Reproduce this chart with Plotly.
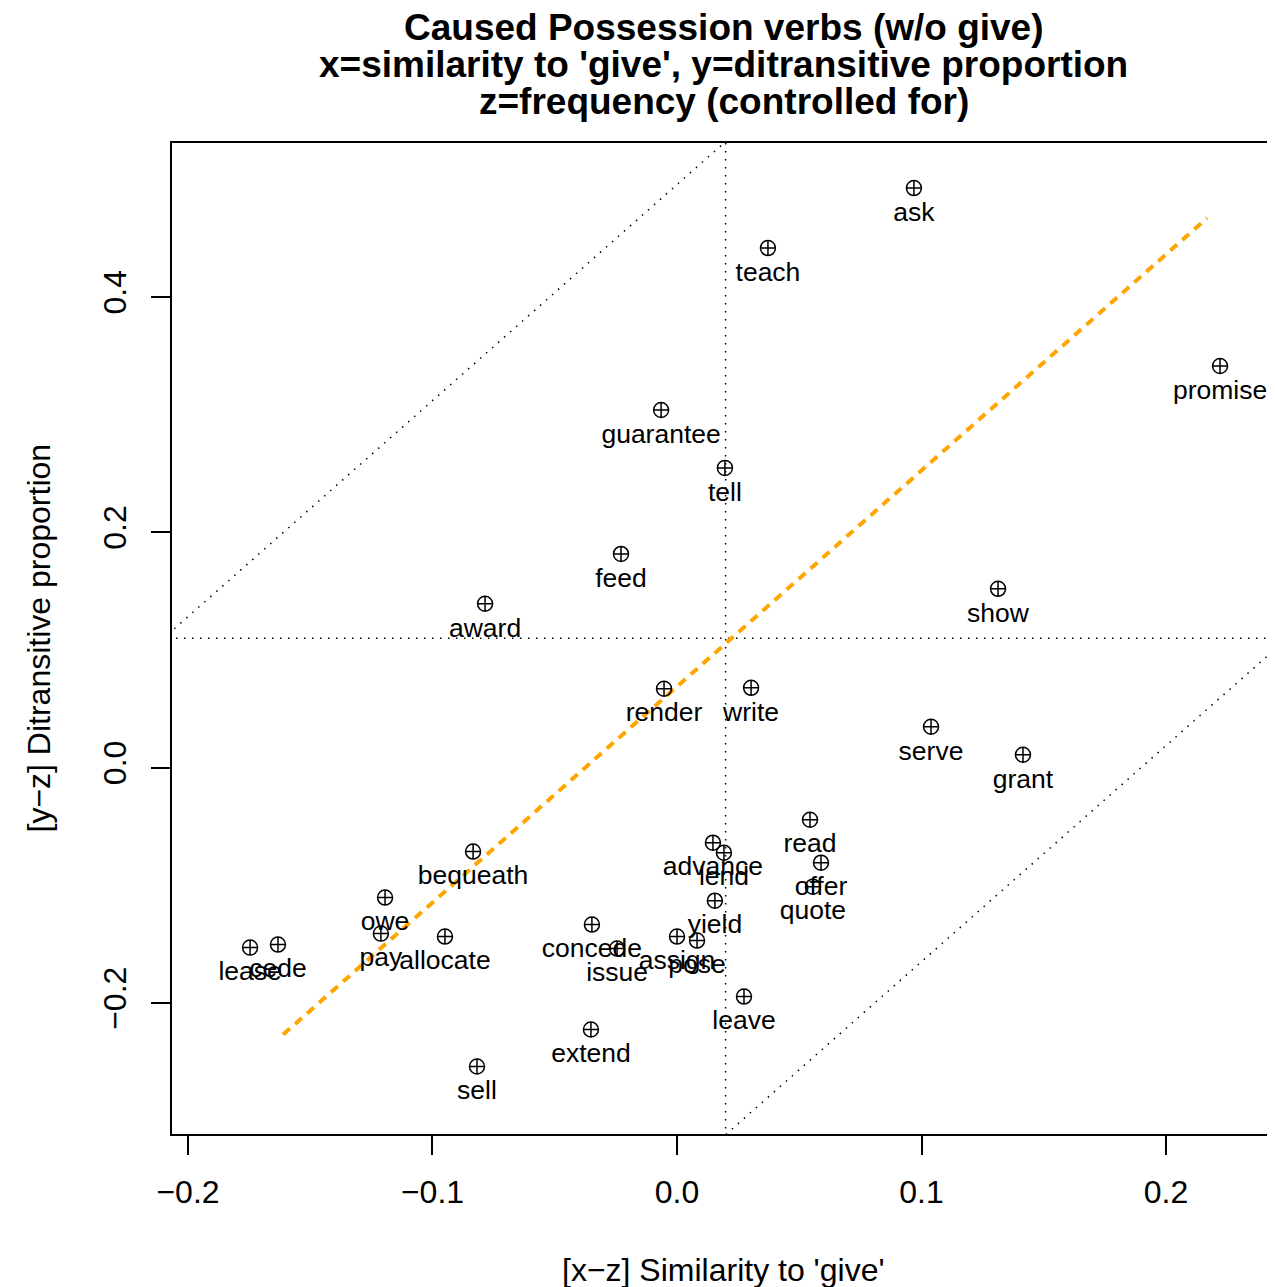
import plotly.graph_objects as go

verbs = ["ask", "teach", "promise", "guarantee", "tell", "feed", "award", "show",
         "render", "write", "serve", "grant", "read", "advance", "lend", "offer",
         "quote", "yield", "concede", "issue", "assign", "pose", "leave", "bequeath",
         "owe", "pay", "allocate", "lease", "cede", "extend", "sell"]
sim_x = [0.0969, 0.0372, 0.2221, -0.0065, 0.0196, -0.0229, -0.0785, 0.1313,
         -0.0053, 0.0303, 0.1039, 0.1415, 0.0544, 0.0147, 0.0192, 0.0589,
         0.0556, 0.0155, -0.0348, -0.0245, 0.0000, 0.0082, 0.0274, -0.0834,
         -0.1194, -0.1211, -0.0949, -0.1746, -0.1632, -0.0352, -0.0818]
ditr_y = [0.4926, 0.4416, 0.3414, 0.3040, 0.2548, 0.1817, 0.1393, 0.1520,
          0.0671, 0.0679, 0.0348, 0.0110, -0.0442, -0.0637, -0.0722, -0.0807,
          -0.1011, -0.1130, -0.1333, -0.1537, -0.1435, -0.1469, -0.1945, -0.0713,
          -0.1104, -0.1410, -0.1435, -0.1529, -0.1503, -0.2225, -0.2539]

center_x = 0.0199
center_y = 0.1101
diag_slope = 1.836
diag_offset = 0.422
fit_x = [-0.1611, 0.2168]
fit_y = [-0.2268, 0.4671]

x_ticks = [-0.2, -0.1, 0.0, 0.1, 0.2]
x_tick_text = ["\u22120.2", "\u22120.1", "0.0", "0.1", "0.2"]
y_ticks = [-0.2, 0.0, 0.2, 0.4]
y_tick_text = ["\u22120.2", "0.0", "0.2", "0.4"]

title_lines = ["Caused Possession verbs (w/o give)",
               "x=similarity to 'give', y=ditransitive proportion",
               "z=frequency (controlled for)"]
x_title = "[x\u2212z] Similarity to 'give'"
y_title = "[y\u2212z] Ditransitive proportion"

FONT = "Liberation Sans, Arial, Helvetica, sans-serif"
x_range = [-0.20654, 0.24458]
y_range = [-0.3113, 0.5309]

fig = go.Figure()
dot_style = dict(color="black", width=1.5, dash="1.5px,6.5px")
ext = [-1.0, 1.0]
fig.add_trace(go.Scatter(x=[center_x, center_x], y=ext, mode="lines", line=dot_style,
                         hoverinfo="skip", showlegend=False))
fig.add_trace(go.Scatter(x=ext, y=[center_y, center_y], mode="lines", line=dot_style,
                         hoverinfo="skip", showlegend=False))
for sgn in (1, -1):
    fig.add_trace(go.Scatter(
        x=ext,
        y=[center_y + sgn * diag_offset + diag_slope * (xx - center_x) for xx in ext],
        mode="lines", line=dot_style, hoverinfo="skip", showlegend=False))

fig.add_trace(go.Scatter(x=fit_x, y=fit_y, mode="lines",
                         line=dict(color="#FFA500", width=4, dash="9px,7px"),
                         hoverinfo="skip", showlegend=False))

# point markers
fig.add_trace(go.Scatter(
    x=sim_x, y=ditr_y, mode="markers",
    marker=dict(symbol="circle-cross-open", size=15, color="black",
                line=dict(color="black", width=1.5)),
    showlegend=False, cliponaxis=False))
# point labels (invisible larger marker pushes label slightly further below)
fig.add_trace(go.Scatter(
    x=sim_x, y=ditr_y, mode="markers+text", text=verbs,
    textposition="bottom center",
    textfont=dict(family=FONT, size=26.5, color="black"),
    marker=dict(size=19, opacity=0, color="black"),
    hoverinfo="skip", showlegend=False, cliponaxis=False))

axis_common = dict(showgrid=False, zeroline=False, showline=True, linecolor="black",
                   linewidth=1.5, ticks="outside", ticklen=19, tickwidth=1.5,
                   tickcolor="black", tickfont=dict(family=FONT, size=32, color="black"))
fig.update_xaxes(range=x_range, tickvals=x_ticks, ticktext=x_tick_text, mirror=True,
                 ticklabelstandoff=10, **axis_common)
fig.update_yaxes(range=y_range, tickvals=y_ticks, ticktext=y_tick_text, mirror=False,
                 tickangle=-90, ticklabelstandoff=12, **axis_common)

# page offset compensation (browser body margin)
OFF = 8
plot_top, plot_bottom, plot_left, plot_right = 143, 1134, 172, 1275
ph = plot_bottom - plot_top
pw = plot_right - plot_left
fig_w, fig_h = 1275 - OFF, 1287 - OFF

annotations = []
for line, py in zip(title_lines, [27, 65, 102]):
    annotations.append(dict(text="<b>" + line + "</b>", xref="paper", yref="paper",
                            x=0.5, y=(plot_bottom - py) / ph, xanchor="center",
                            yanchor="middle", showarrow=False,
                            font=dict(family=FONT, size=37, color="black")))
annotations.append(dict(text=x_title, xref="paper", yref="paper", x=0.5,
                        y=(plot_bottom - 1270) / ph, xanchor="center", yanchor="middle",
                        showarrow=False, font=dict(family=FONT, size=32, color="black")))
annotations.append(dict(text=y_title, xref="paper", yref="paper",
                        x=(38 - plot_left) / pw, y=0.5, xanchor="center", yanchor="middle",
                        textangle=-90, showarrow=False,
                        font=dict(family=FONT, size=32, color="black")))

fig.update_layout(width=fig_w, height=fig_h,
                  margin=dict(l=plot_left - OFF, r=0, t=plot_top - OFF,
                              b=fig_h - (plot_bottom - OFF)),
                  plot_bgcolor="white", paper_bgcolor="white",
                  annotations=annotations, font=dict(family=FONT))

fig.write_html("out.html")
